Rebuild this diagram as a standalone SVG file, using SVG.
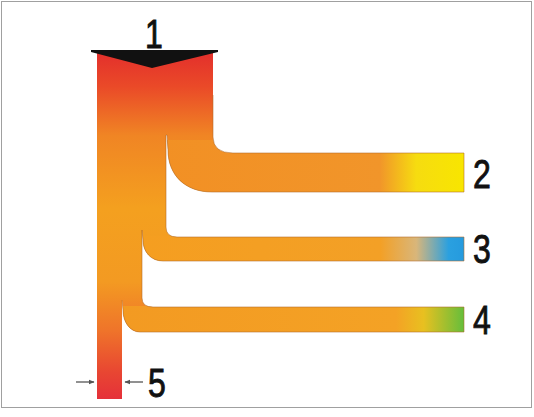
<svg xmlns="http://www.w3.org/2000/svg" width="534" height="417" viewBox="0 0 534 417">
  <style>
    .lbl { font-family: "Liberation Sans", Arial, sans-serif; font-size: 40px; fill: #111; stroke: #111; stroke-width: 0.9; }
    .arr { stroke: #555; stroke-width: 1.3; fill: none; }
  </style>
  <defs>
    <linearGradient id="gTrunk" x1="0" y1="52" x2="0" y2="400" gradientUnits="userSpaceOnUse">
      <stop offset="0" stop-color="#e32f2c"/>
      <stop offset="0.1" stop-color="#ea4a28"/>
      <stop offset="0.24" stop-color="#f08524"/>
      <stop offset="0.45" stop-color="#f4a01f"/>
      <stop offset="0.66" stop-color="#f39a22"/>
      <stop offset="0.8" stop-color="#ef742a"/>
      <stop offset="0.92" stop-color="#e84632"/>
      <stop offset="1" stop-color="#e5303a"/>
    </linearGradient>
    <linearGradient id="g2" x1="160" y1="0" x2="465" y2="0" gradientUnits="userSpaceOnUse">
      <stop offset="0" stop-color="#f29024"/>
      <stop offset="0.72" stop-color="#f1952a"/>
      <stop offset="0.84" stop-color="#f6dc10"/>
      <stop offset="1" stop-color="#f8e600"/>
    </linearGradient>
    <linearGradient id="g3" x1="140" y1="0" x2="465" y2="0" gradientUnits="userSpaceOnUse">
      <stop offset="0" stop-color="#f59e20"/>
      <stop offset="0.74" stop-color="#f3a026"/>
      <stop offset="0.85" stop-color="#d9b67a"/>
      <stop offset="0.95" stop-color="#2aa0e0"/>
      <stop offset="1" stop-color="#259ade"/>
    </linearGradient>
    <linearGradient id="g4" x1="120" y1="0" x2="465" y2="0" gradientUnits="userSpaceOnUse">
      <stop offset="0" stop-color="#f39a22"/>
      <stop offset="0.8" stop-color="#f4a225"/>
      <stop offset="0.88" stop-color="#e8c020"/>
      <stop offset="1" stop-color="#62be3c"/>
    </linearGradient>
    <clipPath id="pipeClip">
      <path d="M97,52 H213 V137 Q213,153 233,153 H464 V192 H212 C185,192 168,175 168,150 L167,135 L166,135 V227 Q166,237 177,237 H464 V261 H163 C151,261 143,252 143,240 L142,230 V298 Q142,307 153,307 H464 V332 H140 C130,332 123,322 123,310 L122,300 V399 H97 Z"/>
    </clipPath>
    <marker id="ah" viewBox="0 0 10 10" refX="9" refY="5" markerWidth="6" markerHeight="6" orient="auto" markerUnits="userSpaceOnUse">
      <path d="M0,1 L10,5 L0,9 Z" fill="#555"/>
    </marker>
  </defs>

  <rect x="0" y="0" width="534" height="417" fill="#fff"/>
  <rect id="frame" x="1.5" y="1.5" width="530" height="406" fill="none" stroke="#a0a0a0" stroke-width="1"/>

  <g id="pipes" clip-path="url(#pipeClip)">
    <g id="trunk">
      <rect x="90" y="50" width="130" height="352" fill="url(#gTrunk)"/>
    </g>
    <g id="branch2">
      <rect x="166" y="140" width="304" height="55" fill="url(#g2)"/>
    </g>
    <g id="branch3">
      <rect x="143" y="236" width="327" height="30" fill="url(#g3)"/>
    </g>
    <g id="branch4">
      <rect x="123" y="306" width="347" height="30" fill="url(#g4)"/>
    </g>
  </g>
  <path d="M213,95 V137 Q213,153 233,153 H464 V192 H212 C185,192 168,175 168,150 L167,135 L166,135 V227 Q166,237 177,237 H464 V261 H163 C151,261 143,252 143,240 L142,230 V298 Q142,307 153,307 H464 V332 H140 C130,332 123,322 123,310 L122,300" fill="none" stroke="#b06a2a" stroke-width="0.8" stroke-opacity="0.7"/>

  <g id="inlet">
    <path d="M91,50 H218 V52 L152,68 L91,52 Z" fill="#111"/>
  </g>

  <g id="connectors">
    <line class="arr" x1="76" y1="382" x2="94" y2="382" marker-end="url(#ah)"/>
    <line class="arr" x1="143" y1="382" x2="125" y2="382" marker-end="url(#ah)"/>
  </g>

  <g id="labels">
    <text class="lbl" transform="translate(154,48) scale(0.8,1)" text-anchor="middle">1</text>
    <text class="lbl" transform="translate(473,188) scale(0.8,1)">2</text>
    <text class="lbl" transform="translate(473,263) scale(0.8,1)">3</text>
    <text class="lbl" transform="translate(473,334) scale(0.8,1)">4</text>
    <text class="lbl" transform="translate(148,397) scale(0.8,1)">5</text>
  </g>
</svg>
